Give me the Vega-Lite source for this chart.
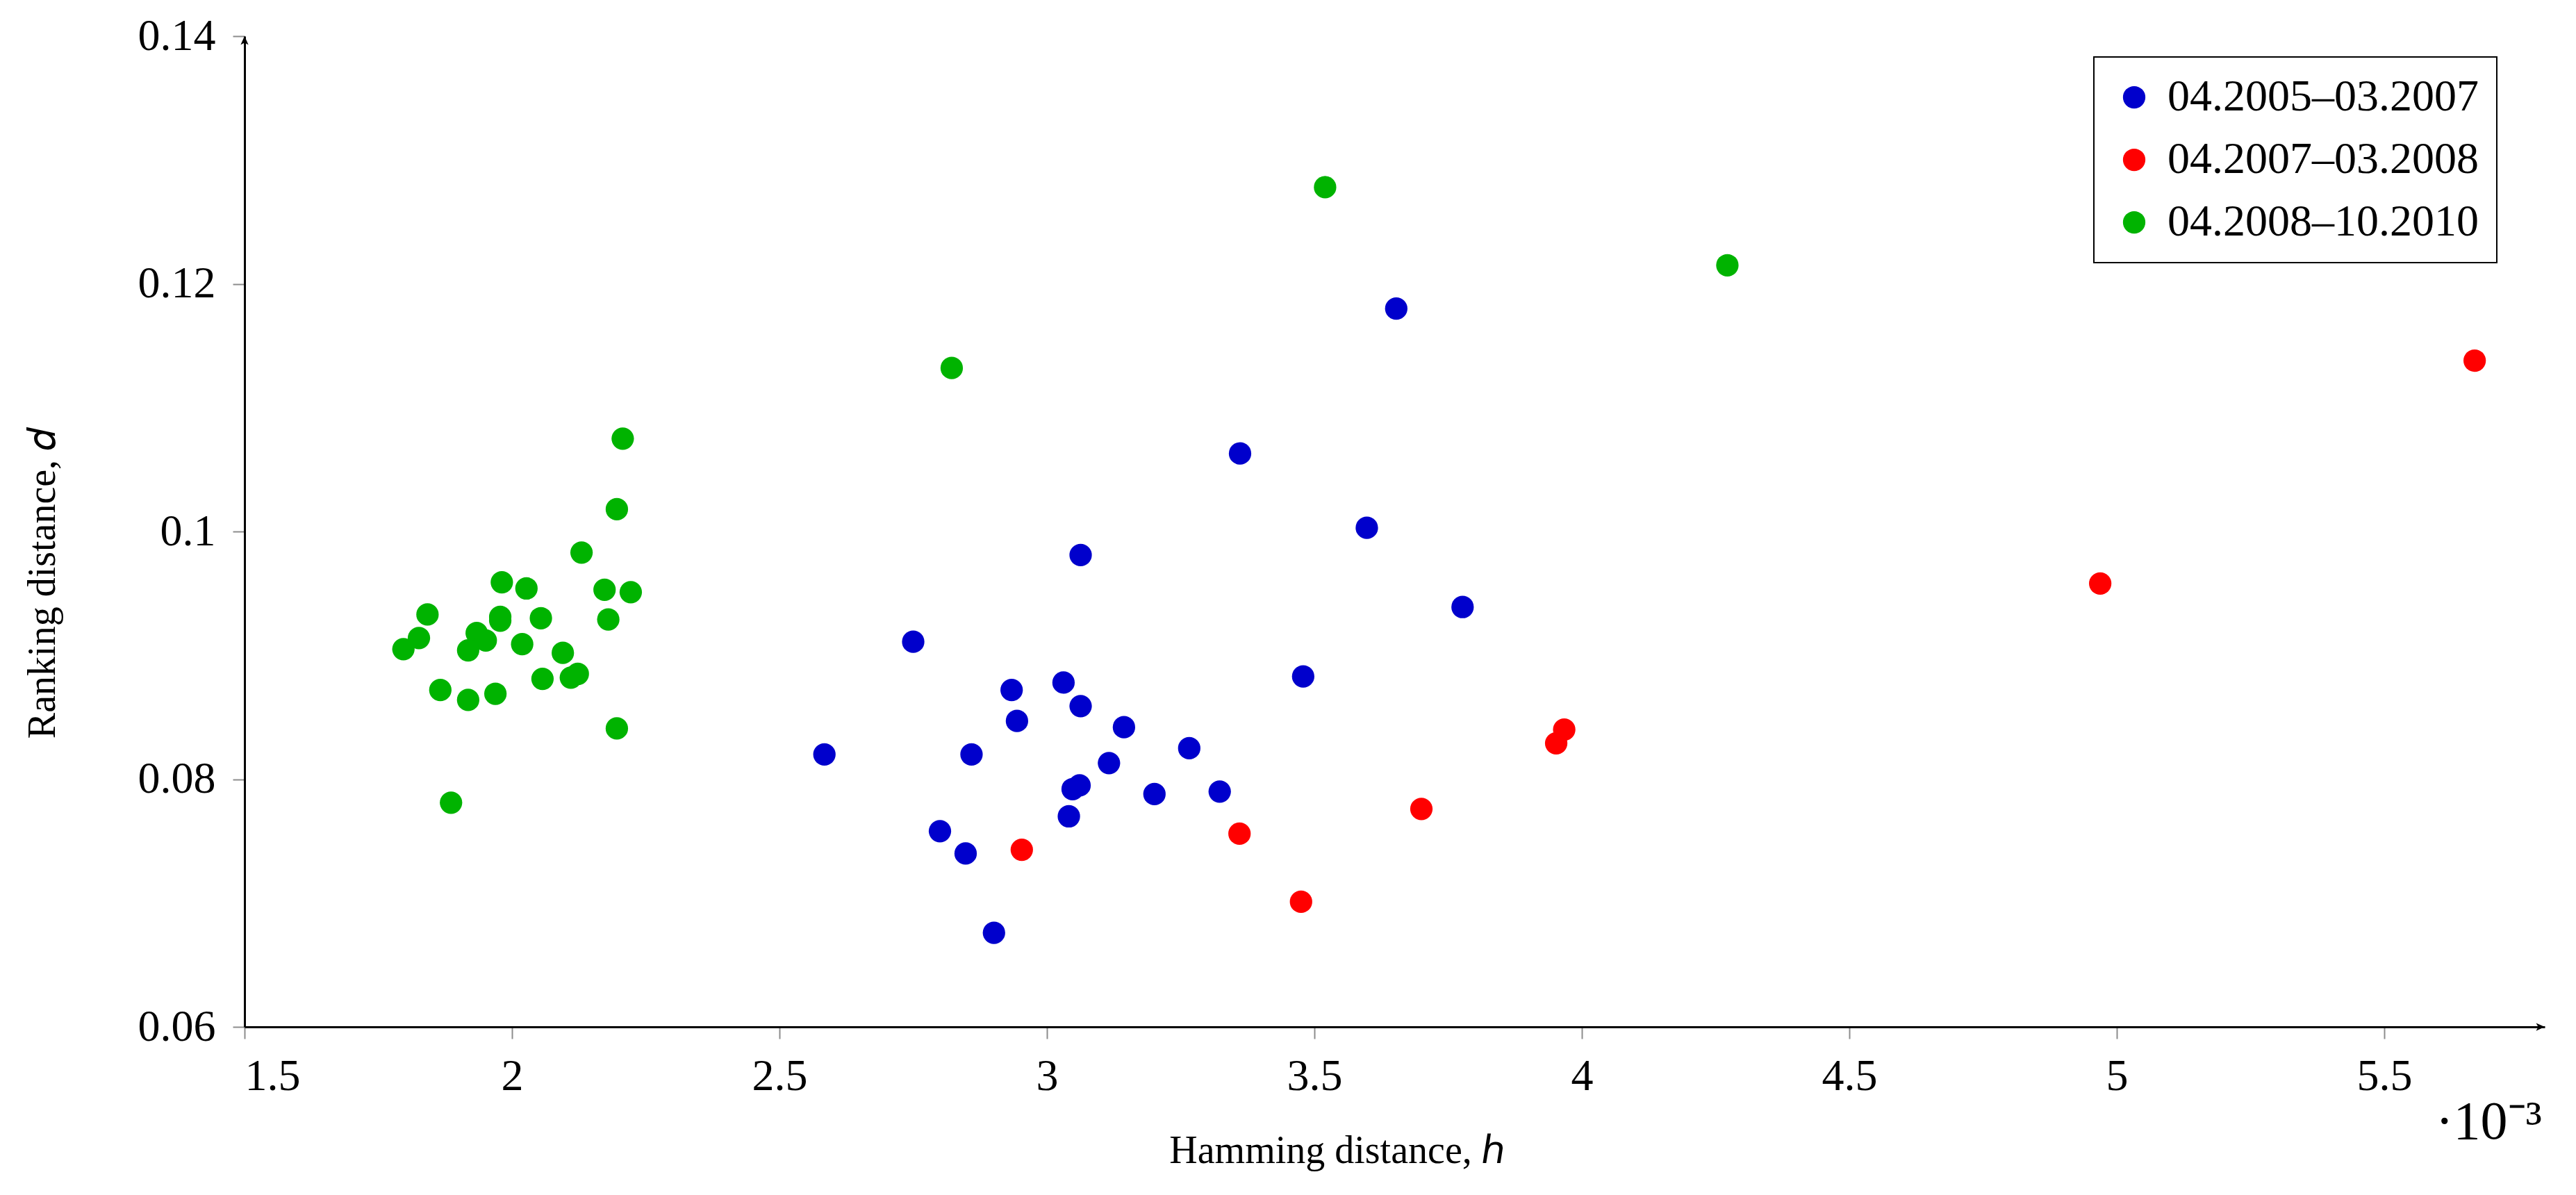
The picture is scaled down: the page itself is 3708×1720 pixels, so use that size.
{
  "$schema": "https://vega.github.io/schema/vega-lite/v6.json",
  "description": "Ranking distance vs Hamming distance for three periods.",
  "autosize": {"type": "none"},
  "padding": {"left": 352, "top": 52, "right": 45, "bottom": 242},
  "width": 3311,
  "height": 1426,
  "background": "white",
  "config": {
    "view": {"stroke": null},
    "font": "Liberation Serif",
    "legend": {"strokeWidth": 2},
    "axis": {
      "domainColor": "black",
      "domainWidth": 3,
      "tickColor": "#8c8c8c",
      "tickWidth": 2,
      "tickSize": 17,
      "grid": false,
      "labelFont": "Liberation Serif",
      "labelFontSize": 64,
      "labelColor": "black",
      "titleFont": "Liberation Serif",
      "titleFontSize": 56,
      "titleFontWeight": "normal",
      "titleColor": "black"
    }
  },
  "layer": [
    {
      "data": {
        "values": [
          {"h": 3.063, "d": 0.0981, "period": "04.2005–03.2007"},
          {"h": 2.750, "d": 0.0911, "period": "04.2005–03.2007"},
          {"h": 3.031, "d": 0.0878, "period": "04.2005–03.2007"},
          {"h": 2.934, "d": 0.0872, "period": "04.2005–03.2007"},
          {"h": 3.063, "d": 0.0859, "period": "04.2005–03.2007"},
          {"h": 2.944, "d": 0.0847, "period": "04.2005–03.2007"},
          {"h": 3.144, "d": 0.0842, "period": "04.2005–03.2007"},
          {"h": 3.479, "d": 0.0883, "period": "04.2005–03.2007"},
          {"h": 2.584, "d": 0.0820, "period": "04.2005–03.2007"},
          {"h": 2.859, "d": 0.0820, "period": "04.2005–03.2007"},
          {"h": 3.266, "d": 0.0825, "period": "04.2005–03.2007"},
          {"h": 3.116, "d": 0.0813, "period": "04.2005–03.2007"},
          {"h": 3.061, "d": 0.0795, "period": "04.2005–03.2007"},
          {"h": 3.048, "d": 0.0792, "period": "04.2005–03.2007"},
          {"h": 3.201, "d": 0.0788, "period": "04.2005–03.2007"},
          {"h": 3.323, "d": 0.0790, "period": "04.2005–03.2007"},
          {"h": 3.041, "d": 0.0770, "period": "04.2005–03.2007"},
          {"h": 2.800, "d": 0.0758, "period": "04.2005–03.2007"},
          {"h": 2.848, "d": 0.0740, "period": "04.2005–03.2007"},
          {"h": 2.901, "d": 0.0676, "period": "04.2005–03.2007"},
          {"h": 3.361, "d": 0.1063, "period": "04.2005–03.2007"},
          {"h": 3.598, "d": 0.1003, "period": "04.2005–03.2007"},
          {"h": 3.777, "d": 0.0939, "period": "04.2005–03.2007"},
          {"h": 3.653, "d": 0.1180, "period": "04.2005–03.2007"},
          {"h": 2.953, "d": 0.0743, "period": "04.2007–03.2008"},
          {"h": 3.360, "d": 0.0756, "period": "04.2007–03.2008"},
          {"h": 3.475, "d": 0.0701, "period": "04.2007–03.2008"},
          {"h": 3.700, "d": 0.0776, "period": "04.2007–03.2008"},
          {"h": 3.952, "d": 0.0829, "period": "04.2007–03.2008"},
          {"h": 3.967, "d": 0.0840, "period": "04.2007–03.2008"},
          {"h": 4.969, "d": 0.0958, "period": "04.2007–03.2008"},
          {"h": 5.669, "d": 0.1138, "period": "04.2007–03.2008"},
          {"h": 2.207, "d": 0.1075, "period": "04.2008–10.2010"},
          {"h": 2.196, "d": 0.1018, "period": "04.2008–10.2010"},
          {"h": 2.130, "d": 0.0983, "period": "04.2008–10.2010"},
          {"h": 1.981, "d": 0.0959, "period": "04.2008–10.2010"},
          {"h": 2.027, "d": 0.0954, "period": "04.2008–10.2010"},
          {"h": 2.173, "d": 0.0953, "period": "04.2008–10.2010"},
          {"h": 2.222, "d": 0.0951, "period": "04.2008–10.2010"},
          {"h": 1.842, "d": 0.0933, "period": "04.2008–10.2010"},
          {"h": 1.978, "d": 0.0931, "period": "04.2008–10.2010"},
          {"h": 1.978, "d": 0.0928, "period": "04.2008–10.2010"},
          {"h": 2.054, "d": 0.0930, "period": "04.2008–10.2010"},
          {"h": 2.180, "d": 0.0929, "period": "04.2008–10.2010"},
          {"h": 1.826, "d": 0.0914, "period": "04.2008–10.2010"},
          {"h": 1.797, "d": 0.0905, "period": "04.2008–10.2010"},
          {"h": 1.934, "d": 0.0918, "period": "04.2008–10.2010"},
          {"h": 1.951, "d": 0.0912, "period": "04.2008–10.2010"},
          {"h": 1.918, "d": 0.0904, "period": "04.2008–10.2010"},
          {"h": 2.019, "d": 0.0909, "period": "04.2008–10.2010"},
          {"h": 2.095, "d": 0.0902, "period": "04.2008–10.2010"},
          {"h": 2.057, "d": 0.0881, "period": "04.2008–10.2010"},
          {"h": 2.110, "d": 0.0882, "period": "04.2008–10.2010"},
          {"h": 2.123, "d": 0.0885, "period": "04.2008–10.2010"},
          {"h": 1.866, "d": 0.0872, "period": "04.2008–10.2010"},
          {"h": 1.918, "d": 0.0864, "period": "04.2008–10.2010"},
          {"h": 1.969, "d": 0.0869, "period": "04.2008–10.2010"},
          {"h": 2.196, "d": 0.0841, "period": "04.2008–10.2010"},
          {"h": 1.886, "d": 0.0781, "period": "04.2008–10.2010"},
          {"h": 2.822, "d": 0.1132, "period": "04.2008–10.2010"},
          {"h": 3.520, "d": 0.1278, "period": "04.2008–10.2010"},
          {"h": 4.272, "d": 0.1215, "period": "04.2008–10.2010"}
        ]
      },
      "mark": {"type": "circle", "size": 1040, "opacity": 1},
      "encoding": {
        "x": {
          "field": "h",
          "type": "quantitative",
          "scale": {"domain": [1.5, 5.8], "nice": false, "zero": false},
          "axis": {
            "values": [1.5, 2, 2.5, 3, 3.5, 4, 4.5, 5, 5.5],
            "format": "~g",
            "labelPadding": 22,
            "title": "Hamming distance, ℎ",
            "titleX": 1573,
            "titleY": 195,
            "titleAlign": "center",
            "titleBaseline": "alphabetic"
          }
        },
        "y": {
          "field": "d",
          "type": "quantitative",
          "scale": {"domain": [0.06, 0.14], "nice": false, "zero": false},
          "axis": {
            "values": [0.06, 0.08, 0.1, 0.12, 0.14],
            "format": "~g",
            "labelPadding": 25,
            "title": "Ranking distance, 𝑑",
            "titleAngle": 270,
            "titleX": -274,
            "titleY": 787,
            "titleAlign": "center",
            "titleBaseline": "alphabetic"
          }
        },
        "color": {
          "field": "period",
          "type": "nominal",
          "scale": {
            "domain": ["04.2005–03.2007", "04.2007–03.2008", "04.2008–10.2010"],
            "range": ["#0000cc", "#ff0000", "#00b300"]
          },
          "legend": {
            "title": null,
            "orient": "none",
            "legendX": 2662,
            "legendY": 30,
            "strokeColor": "black",
            "fillColor": "white",
            "cornerRadius": 0,
            "padding": 26,
            "rowPadding": 26,
            "labelFont": "Liberation Serif",
            "labelFontSize": 64,
            "labelLimit": 0,
            "labelColor": "black",
            "labelOffset": 16,
            "symbolType": "circle",
            "symbolSize": 1040,
            "symbolStrokeWidth": 0
          }
        }
      }
    },
    {
      "data": {"values": [{}]},
      "mark": {"type": "point", "shape": "M 0 0 L -1 -0.45 L -0.75 0 L -1 0.45 Z", "filled": true, "size": 625, "color": "black", "opacity": 1},
      "encoding": {"x": {"datum": 5.8}, "y": {"datum": 0.06}}
    },
    {
      "data": {"values": [{}]},
      "mark": {"type": "point", "shape": "M 0 0 L -0.45 1 L 0 0.75 L 0.45 1 Z", "filled": true, "size": 625, "color": "black", "opacity": 1},
      "encoding": {"x": {"datum": 1.5}, "y": {"datum": 0.14}}
    },
    {
      "data": {"values": [{}]},
      "mark": {"type": "text", "text": "·10⁻³", "font": "Liberation Serif", "fontSize": 78, "color": "black", "align": "right", "baseline": "alphabetic", "dx": -4, "dy": 161},
      "encoding": {"x": {"datum": 5.8}, "y": {"datum": 0.06}}
    }
  ]
}
